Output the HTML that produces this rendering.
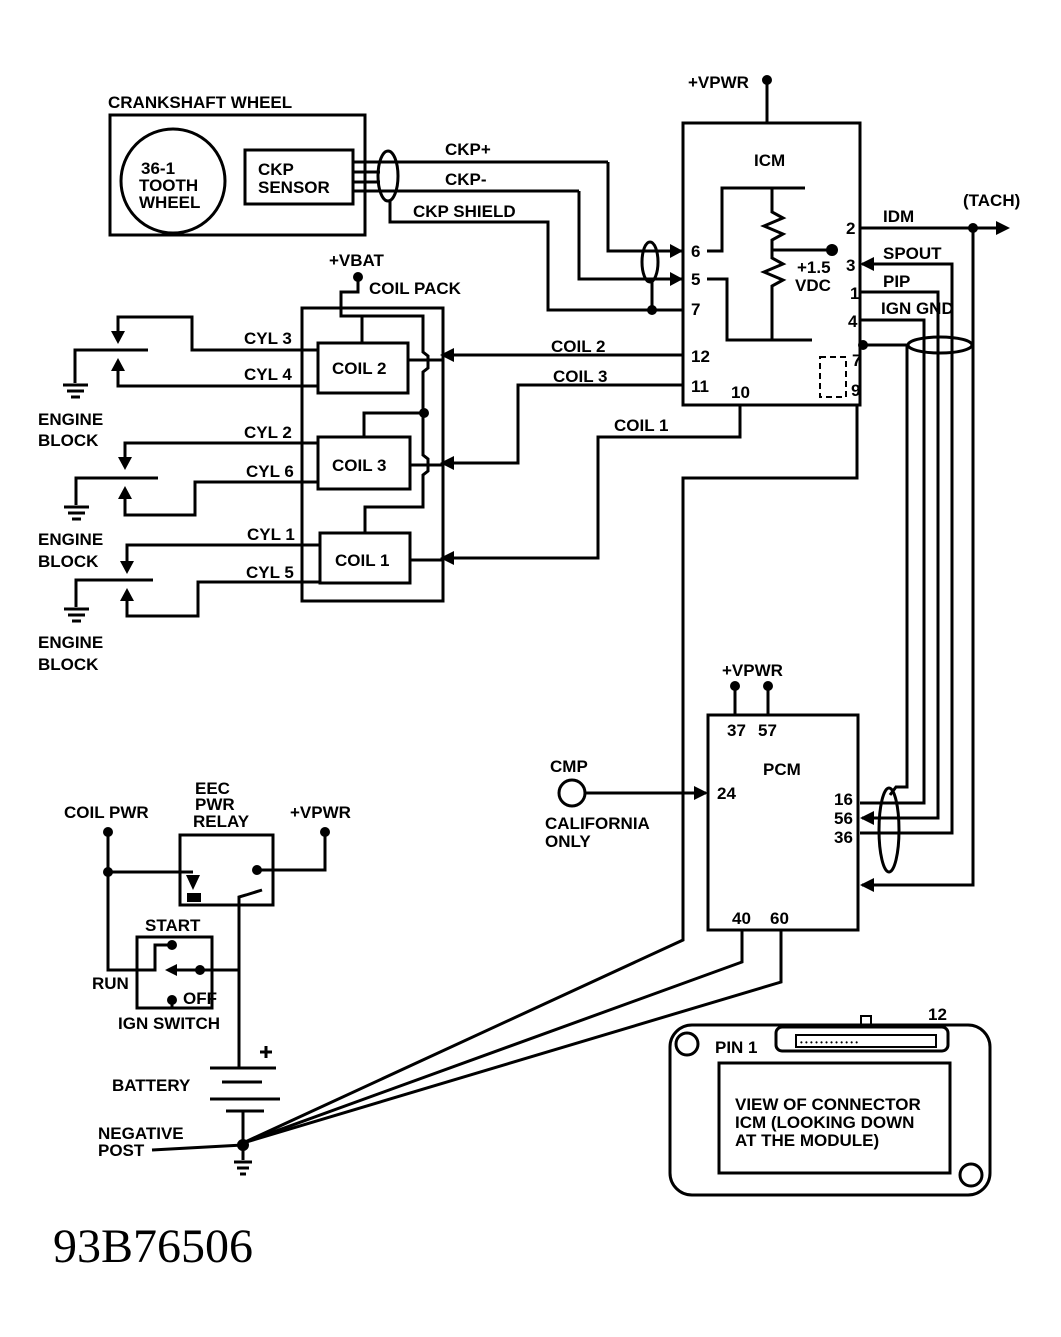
<!DOCTYPE html>
<html><head><meta charset="utf-8"><style>
html,body{margin:0;padding:0;background:#fff;}
svg{display:block;}
text{font-family:"Liberation Sans",sans-serif;font-size:17px;font-weight:bold;fill:#000;}
</style></head><body>
<svg width="1061" height="1337" viewBox="0 0 1061 1337" xmlns="http://www.w3.org/2000/svg">
<g fill="none" stroke="#000" stroke-width="3" stroke-linejoin="miter">
<rect x="110" y="115" width="255" height="120"/>
<circle cx="173" cy="181" r="52"/>
<rect x="245" y="150" width="108" height="54"/>
<line x1="353" y1="162" x2="608" y2="162"/>
<line x1="353" y1="172" x2="380" y2="172"/>
<line x1="353" y1="182" x2="380" y2="182"/>
<polyline points="608,162 608,251 683,251"/>
<line x1="353" y1="191" x2="579" y2="191"/>
<polyline points="579,191 579,279 683,279"/>
<ellipse cx="388" cy="176" rx="10" ry="25"/>
<polyline points="390,200 390,222 548,222 548,310 683,310"/>
<ellipse cx="650" cy="262" rx="8" ry="20"/>
<line x1="652" y1="282" x2="652" y2="310"/>
<rect x="683" y="123" width="177" height="282"/>
<line x1="767" y1="80" x2="767" y2="123"/>
<polyline points="707,251 722,251 722,188 805,188"/>
<polyline points="707,279 727,279 727,340 812,340"/>
<polyline points="772,188 772,212 783,218 764,226 783,234 772,240 772,250 772,258 783,264 764,272 783,280 772,286 772,340"/>
<line x1="772" y1="250" x2="832" y2="250"/>
<rect x="820" y="357" width="26" height="40" stroke-dasharray="6,4" stroke-width="2"/>
<line x1="860" y1="228" x2="1005" y2="228"/>
<polyline points="973,228 973,885 862,885"/>
<polyline points="862,264 952,264 952,833 860,833"/>
<polyline points="860,292 938,292 938,818 862,818"/>
<polyline points="860,320 924,320 924,803 860,803"/>
<polyline points="862,345 907,345 907,787 896,787 890,795"/>
<ellipse cx="940" cy="345" rx="32" ry="8"/>
<ellipse cx="889" cy="830" rx="10" ry="42"/>
<line x1="683" y1="355" x2="443" y2="355"/>
<polyline points="683,385 518,385 518,463 443,463"/>
<polyline points="740,405 740,437 598,437 598,558 443,558"/>
<polyline points="857,405 857,478 683,478 683,940 243,1143"/>
<polyline points="742,930 742,962 243,1143"/>
<polyline points="781,930 781,982 243,1143"/>
<rect x="302" y="308" width="141" height="293"/>
<polyline points="358,277 358,292 341,292 341,316 423,316 423,352 428,356 428,368 423,372 423,455 428,459 428,471 423,475 423,507 365,507 365,533"/>
<polyline points="423,413 364,413 364,437"/>
<line x1="362" y1="316" x2="362" y2="343"/>
<rect x="318" y="343" width="90" height="50"/>
<rect x="318" y="437" width="92" height="52"/>
<rect x="320" y="533" width="90" height="50"/>
<line x1="408" y1="360" x2="443" y2="360"/>
<line x1="410" y1="465" x2="443" y2="465"/>
<line x1="410" y1="560" x2="443" y2="560"/>
<polyline points="318,350 192,350 192,317 118,317 118,340"/>
<polyline points="318,386 118,386 118,362"/>
<polyline points="148,350 75,350 75,383"/>
<polyline points="318,443 125,443 125,466"/>
<polyline points="318,482 195,482 195,515 125,515 125,490"/>
<polyline points="158,478 76,478 76,505"/>
<polyline points="320,545 127,545 127,570"/>
<polyline points="320,582 198,582 198,616 127,616 127,592"/>
<polyline points="153,580 76,580 76,607"/>
<rect x="708" y="715" width="150" height="215"/>
<line x1="735" y1="686" x2="735" y2="715"/>
<line x1="768" y1="686" x2="768" y2="715"/>
<circle cx="572" cy="793" r="13"/>
<line x1="585" y1="793" x2="706" y2="793"/>
<polyline points="108,832 108,970 155,970 155,945 172,945"/>
<line x1="108" y1="872" x2="193" y2="872"/>
<rect x="180" y="835" width="93" height="70"/>
<polyline points="257,870 325,870 325,832"/>
<polyline points="262,890 246,895 239,897 239,1068"/>
<rect x="137" y="937" width="75" height="71"/>
<line x1="170" y1="970" x2="239" y2="970"/>
<line x1="172" y1="1000" x2="172" y2="1008"/>
<line x1="210" y1="1068" x2="276" y2="1068"/>
<line x1="222" y1="1082" x2="262" y2="1082"/>
<line x1="210" y1="1099" x2="280" y2="1099"/>
<line x1="226" y1="1111" x2="264" y2="1111"/>
<line x1="243" y1="1111" x2="243" y2="1145"/>
<line x1="152" y1="1150" x2="243" y2="1145"/>
<line x1="243" y1="1145" x2="243" y2="1160"/>
<rect x="670" y="1025" width="320" height="170" rx="22"/>
<circle cx="687" cy="1044" r="11"/>
<circle cx="971" cy="1175" r="11"/>
<rect x="719" y="1063" width="231" height="110"/>
<rect x="776" y="1027" width="172" height="24" rx="6"/>
<rect x="796" y="1035" width="140" height="12" stroke-width="2"/>
<rect x="861" y="1016" width="10" height="10" stroke-width="2"/>
</g>
<g stroke="#000" stroke-width="3">
<line x1="63" y1="385" x2="88" y2="385"/><line x1="67" y1="391" x2="84" y2="391"/><line x1="71" y1="397" x2="80" y2="397"/>
<line x1="64" y1="507" x2="89" y2="507"/><line x1="68" y1="513" x2="85" y2="513"/><line x1="72" y1="519" x2="81" y2="519"/>
<line x1="64" y1="609" x2="89" y2="609"/><line x1="68" y1="615" x2="85" y2="615"/><line x1="72" y1="621" x2="81" y2="621"/>
<line x1="234" y1="1162" x2="252" y2="1162"/><line x1="237" y1="1168" x2="249" y2="1168"/><line x1="240" y1="1174" x2="246" y2="1174"/>
<line x1="260" y1="1052" x2="272" y2="1052"/><line x1="266" y1="1046" x2="266" y2="1058"/>
</g>
<g fill="#000">
<circle cx="767" cy="80" r="5"/><circle cx="832" cy="250" r="6"/><circle cx="973" cy="228" r="5"/>
<circle cx="863" cy="345" r="5"/><circle cx="652" cy="310" r="5"/><circle cx="358" cy="277" r="5"/>
<circle cx="424" cy="413" r="5"/><circle cx="735" cy="686" r="5"/><circle cx="768" cy="686" r="5"/>
<circle cx="108" cy="832" r="5"/><circle cx="108" cy="872" r="5"/><circle cx="325" cy="832" r="5"/>
<circle cx="257" cy="870" r="5"/><circle cx="172" cy="945" r="5"/><circle cx="200" cy="970" r="5"/>
<circle cx="172" cy="1000" r="5"/><circle cx="243" cy="1145" r="6"/>
<polygon points="683,251 670,244 670,258"/>
<polygon points="683,279 670,272 670,286"/>
<polygon points="1010,228 996,221 996,235"/>
<polygon points="860,264 874,257 874,271"/>
<polygon points="860,818 874,811 874,825"/>
<polygon points="860,885 874,878 874,892"/>
<polygon points="708,793 694,786 694,800"/>
<polygon points="440,355 454,348 454,362"/>
<polygon points="440,463 454,456 454,470"/>
<polygon points="440,558 454,551 454,565"/>
<polygon points="118,344 111,331 125,331"/>
<polygon points="118,358 111,371 125,371"/>
<polygon points="125,470 118,457 132,457"/>
<polygon points="125,486 118,499 132,499"/>
<polygon points="127,574 120,561 134,561"/>
<polygon points="127,588 120,601 134,601"/>
<polygon points="165,970 177,964 177,976"/>
<polygon points="186,875 200,875 193,890"/>
<polygon points="187,893 201,893 201,902 187,902"/>
</g>
<text x="800" y="1045" style="font-size:8px;font-weight:normal">• • • • • • • • • • • •</text>
<text x="108" y="108">CRANKSHAFT WHEEL</text>
<text x="141" y="174">36-1</text>
<text x="139" y="191">TOOTH</text>
<text x="139" y="208">WHEEL</text>
<text x="258" y="175">CKP</text>
<text x="258" y="193">SENSOR</text>
<text x="445" y="155">CKP+</text>
<text x="445" y="185">CKP-</text>
<text x="413" y="217">CKP SHIELD</text>
<text x="688" y="88">+VPWR</text>
<text x="754" y="166">ICM</text>
<text x="691" y="257">6</text><text x="691" y="285">5</text><text x="691" y="315">7</text>
<text x="691" y="362">12</text><text x="691" y="392">11</text><text x="731" y="398">10</text>
<text x="797" y="273">+1.5</text><text x="795" y="291">VDC</text>
<text x="846" y="234">2</text><text x="846" y="271">3</text><text x="850" y="299">1</text>
<text x="848" y="327">4</text><text x="852" y="366">7</text><text x="851" y="396">9</text>
<text x="963" y="206">(TACH)</text>
<text x="883" y="222">IDM</text>
<text x="883" y="259">SPOUT</text>
<text x="883" y="287">PIP</text>
<text x="881" y="314">IGN GND</text>
<text x="329" y="266">+VBAT</text>
<text x="369" y="294">COIL PACK</text>
<text x="332" y="374">COIL 2</text>
<text x="332" y="471">COIL 3</text>
<text x="335" y="566">COIL 1</text>
<text x="551" y="352">COIL 2</text>
<text x="553" y="382">COIL 3</text>
<text x="614" y="431">COIL 1</text>
<text x="244" y="344">CYL 3</text><text x="244" y="380">CYL 4</text>
<text x="244" y="438">CYL 2</text><text x="246" y="477">CYL 6</text>
<text x="247" y="540">CYL 1</text><text x="246" y="578">CYL 5</text>
<text x="38" y="425">ENGINE</text><text x="38" y="446">BLOCK</text>
<text x="38" y="545">ENGINE</text><text x="38" y="567">BLOCK</text>
<text x="38" y="648">ENGINE</text><text x="38" y="670">BLOCK</text>
<text x="722" y="676">+VPWR</text>
<text x="727" y="736">37</text><text x="758" y="736">57</text>
<text x="763" y="775">PCM</text>
<text x="717" y="799">24</text>
<text x="834" y="805">16</text><text x="834" y="824">56</text><text x="834" y="843">36</text>
<text x="732" y="924">40</text><text x="770" y="924">60</text>
<text x="550" y="772">CMP</text>
<text x="545" y="829">CALIFORNIA</text>
<text x="545" y="847">ONLY</text>
<text x="64" y="818">COIL PWR</text>
<text x="195" y="794">EEC</text><text x="195" y="810">PWR</text><text x="193" y="827">RELAY</text>
<text x="290" y="818">+VPWR</text>
<text x="145" y="931">START</text>
<text x="92" y="989">RUN</text>
<text x="183" y="1004">OFF</text>
<text x="118" y="1029">IGN SWITCH</text>
<text x="112" y="1091">BATTERY</text>
<text x="98" y="1139">NEGATIVE</text>
<text x="98" y="1156">POST</text>
<text x="715" y="1053">PIN 1</text>
<text x="928" y="1020">12</text>
<text x="735" y="1110">VIEW OF CONNECTOR</text>
<text x="735" y="1128">ICM (LOOKING DOWN</text>
<text x="735" y="1146">AT THE MODULE)</text>
<text x="53" y="1262" style="font-family:'Liberation Serif',serif;font-size:48px;font-weight:normal">93B76506</text>
</svg>
</body></html>
